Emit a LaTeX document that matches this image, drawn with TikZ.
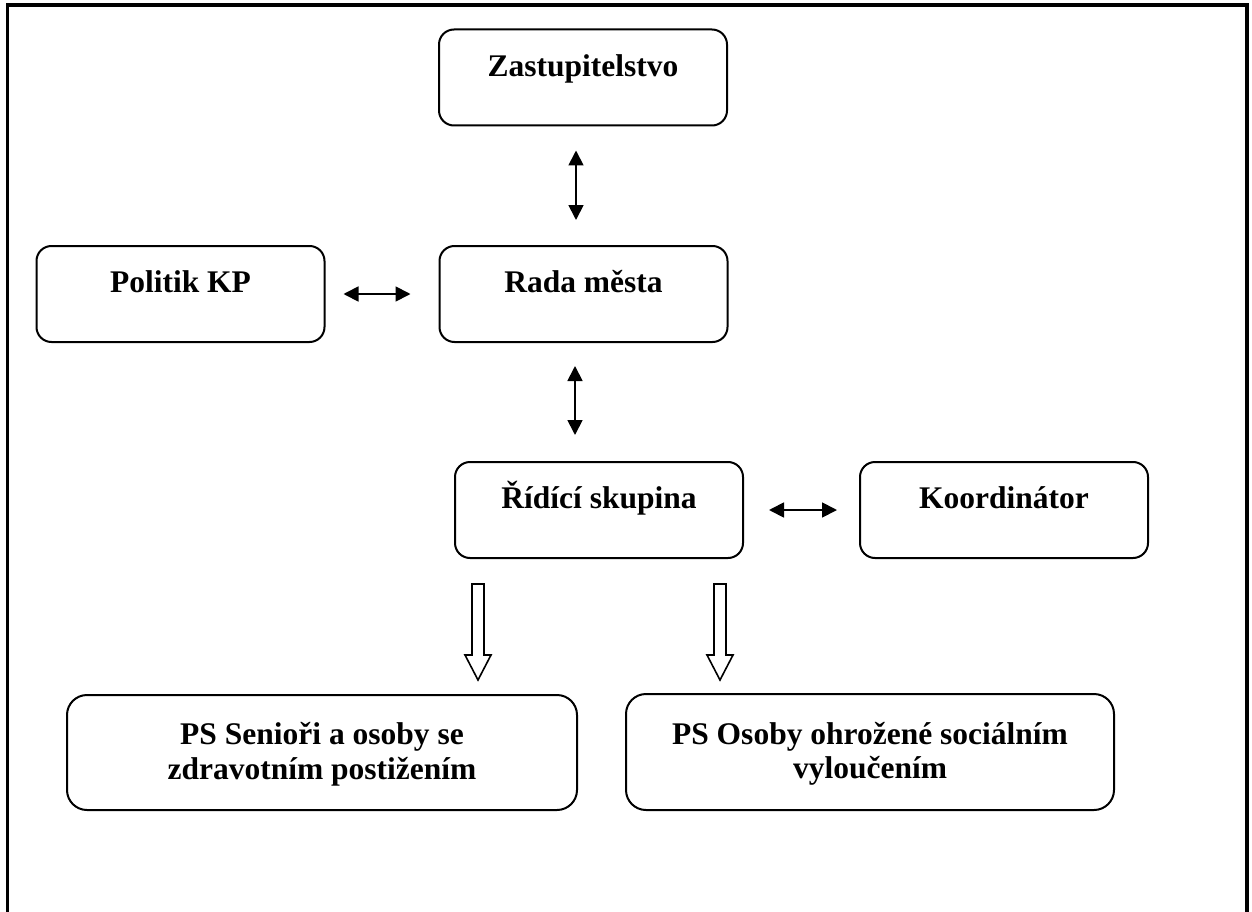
\documentclass[tikz,border=0pt]{standalone}
\usepackage{fontspec}
\setmainfont{Liberation Serif}
\usetikzlibrary{arrows.meta}
\begin{document}
\begin{tikzpicture}[x=1pt,y=-1pt,
	box/.style={draw,rounded corners=15pt,line width=2pt,minimum width=288pt,minimum height=96pt,inner sep=0pt,
		font=\fontsize{31.5}{33}\selectfont\bfseries,text height=22pt,text depth=25pt},
	bigbox/.style={box,rounded corners=20pt,align=center,font=\fontsize{31.5}{34.5}\selectfont\bfseries,text height=56.5pt,text depth=3pt},
	dbl/.style={line width=1.8pt,{Triangle[width=15pt,length=15pt]}-{Triangle[width=15pt,length=15pt]}},
	hollow/.style={draw,line width=1.6pt,line join=miter}]
	\useasboundingbox (0,0) rectangle (1252,912);
	\draw[line width=3.2pt] (7.5,930) -- (7.5,5) -- (1247,5) -- (1247,930);
	% boxes
	\node[box,text depth=23pt] (zast) at (583,77.5) {Zastupitelstvo};
	\node[box] (polit) at (180.5,294) {Politik KP};
	\node[box] (rada) at (583.5,294) {Rada města};
	\node[box] (ridici) at (599,510) {Řídící skupina};
	\node[box] (koord) at (1004,510) {Koordinátor};
	\node[bigbox,minimum width=510pt,minimum height=115pt] (senior) at (322,752.5) {PS Senioři a osoby se\\zdravotním postižením};
	\node[bigbox,minimum width=488pt,minimum height=116pt] (osoby) at (870,752) {PS Osoby ohrožené sociálním\\vyloučením};
	% arrows
	\draw[dbl,shorten <=24pt,shorten >=25pt] ([xshift=-7pt]zast.south) -- ([xshift=-7pt]zast.south |- rada.north);
	\draw[dbl,shorten <=18pt,shorten >=28pt] (polit.east) -- (rada.west);
	\draw[dbl,shorten <=23pt,shorten >=26pt] ([xshift=-8.5pt]rada.south) -- ([xshift=-8.5pt]rada.south |- ridici.north);
	\draw[dbl,shorten <=25pt,shorten >=22pt] (ridici.east) -- (koord.west);
	\draw[hollow] ([xshift=-121pt,yshift=-25pt]ridici.south) coordinate (dolu1)
		-- ++(6,0) -- ++(0,71) -- ++(7,0) -- ++(-13,25) -- ++(-13,-25) -- ++(7,0) -- ++(0,-71) -- cycle;
	\draw[hollow] ([xshift=121pt,yshift=-25pt]ridici.south) coordinate (dolu2)
		-- ++(6,0) -- ++(0,71) -- ++(7,0) -- ++(-13,25) -- ++(-13,-25) -- ++(7,0) -- ++(0,-71) -- cycle;
\end{tikzpicture}
\end{document}
